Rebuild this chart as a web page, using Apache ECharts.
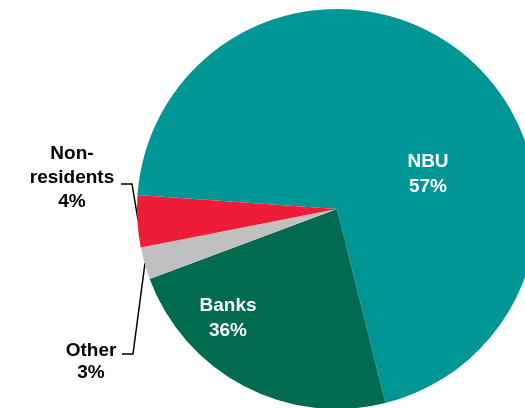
<!DOCTYPE html>
<html>
<head>
<meta charset="utf-8">
<script src="https://cdn.jsdelivr.net/npm/echarts@6/dist/echarts.min.js"></script>
<style>
html,body{margin:0;padding:0;background:#fff;}
#chart{width:525px;height:408px;}
</style>
</head>
<body>
<div id="chart"></div>
<script>
// Slice shares as drawn (angular size)
var categories = ['NBU', 'Banks', 'Other', 'Non-\nresidents'];
var sliceValues = [70.0, 23.2, 2.6, 4.2];
// Percent labels printed on the chart
var labelPercents = ['57%', '36%', '3%', '4%'];

var colors = ['#009696', '#006B4F', '#C0C0C0', '#EE1C36'];

var labelPos = [[428, 174], [228, 318], [91, 362], [72, 178]];
var lineHeights = [25, 25, 22, 24];
var linePoints = [null, null,
  [[145, 263], [133, 354], [122, 354]],
  [[138, 220], [132, 184], [121, 184]]];

var chart = echarts.init(document.getElementById('chart'));
var data = categories.map(function (c, i) {
  var inside = i < 2;
  return {
    name: c,
    value: sliceValues[i],
    itemStyle: { color: colors[i] },
    label: {
      show: true,
      position: 'outside',
      formatter: c + '\n' + labelPercents[i],
      color: inside ? '#ffffff' : '#000000',
      fontFamily: 'Liberation Sans, Arial, sans-serif',
      fontWeight: 'bold',
      fontSize: 19,
      lineHeight: lineHeights[i],
      align: 'center'
    },
    labelLine: {
      show: !inside,
      lineStyle: { color: '#000', width: 1.5 }
    }
  };
});

chart.setOption({
  animation: false,
  backgroundColor: '#ffffff',
  series: [{
    type: 'pie',
    center: [337, 209],
    radius: [0, 200],
    startAngle: 176,
    clockwise: true,
    avoidLabelOverlap: false,
    itemStyle: { borderWidth: 0 },
    data: data,
    labelLayout: function (p) {
      var i = p.dataIndex;
      var r = {
        x: labelPos[i][0],
        y: labelPos[i][1],
        align: 'center',
        verticalAlign: 'middle'
      };
      if (linePoints[i]) r.labelLinePoints = linePoints[i];
      return r;
    }
  }]
});
</script>
</body>
</html>
